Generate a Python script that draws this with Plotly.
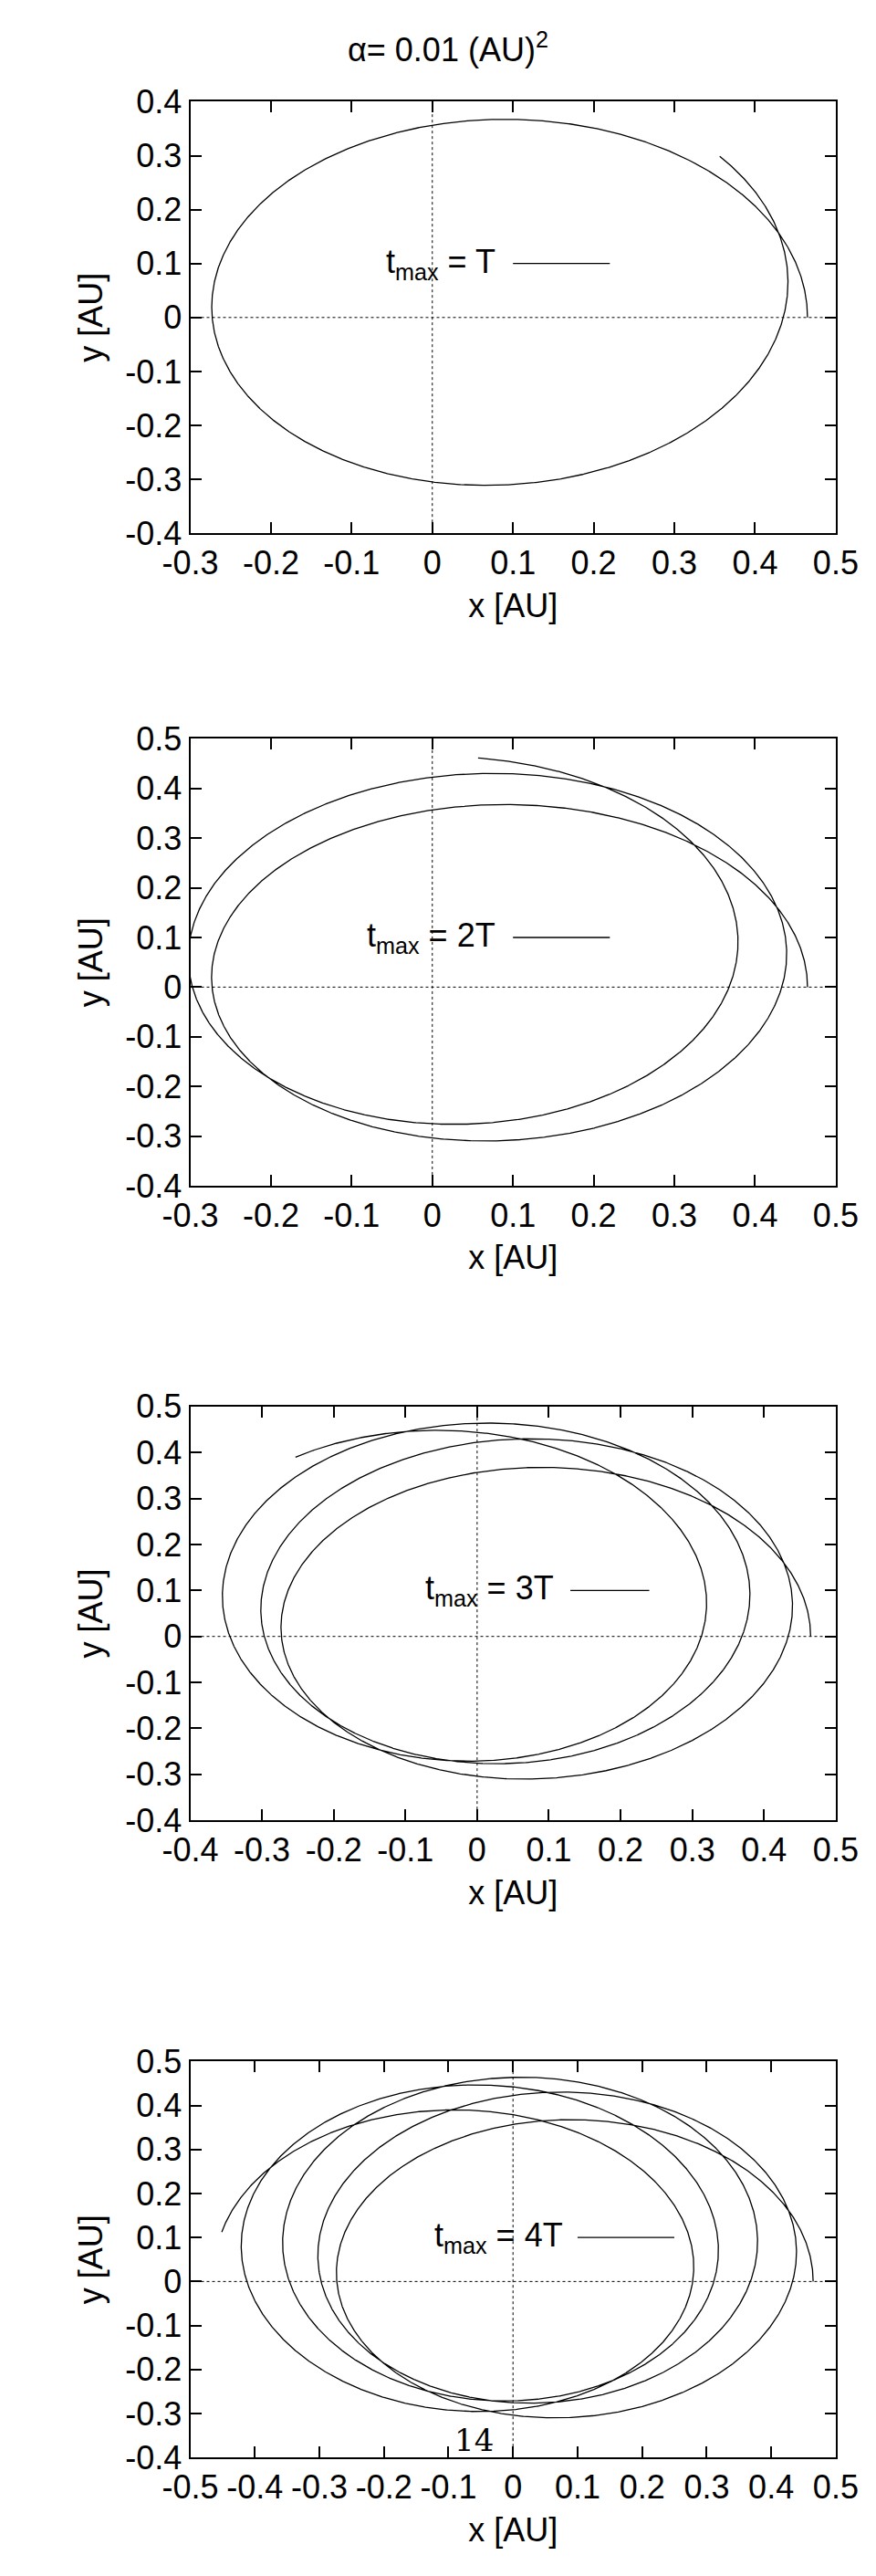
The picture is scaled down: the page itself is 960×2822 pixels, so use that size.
import numpy as np
import plotly.graph_objects as go

# values
panel_labels = ["T", "2T", "3T", "4T"]
n_periods = [1, 2, 3, 4]
end_angles_deg = [40, 83, 123, 166]      # polar angle of the end point after k periods
r_peri = 0.27                             # perihelion distance (AU)
r_aph = 0.465                             # aphelion distance (AU)
x_ranges = [[-0.3, 0.5], [-0.3, 0.5], [-0.4, 0.5], [-0.5, 0.5]]
y_ranges = [[-0.4, 0.4], [-0.4, 0.5], [-0.4, 0.5], [-0.4, 0.5]]
legend_x = [[0.10, 0.22], [0.10, 0.22], [0.13, 0.24], [0.10, 0.25]]
legend_y = 0.1
title_text = "α= 0.01 (AU)<sup>2</sup>"

domains_y = [[0.800, 0.970], [0.543, 0.719], [0.293, 0.456], [0.042, 0.198]]
dom_x = [0.1875, 0.970]
FONT = "Liberation Sans Narrow, Liberation Sans, Arial, sans-serif"
FS = 36

def tick_list(rng):
    vals = [round(v / 10, 1) for v in range(int(round(rng[0] * 10)), int(round(rng[1] * 10)) + 1)]
    texts = [("0" if v == 0 else ("%g" % v).replace("−", "-")) for v in vals]
    return vals, texts

def trajectory(k, end_deg):
    shift = np.radians(end_deg)
    phi = np.linspace(0, k * 2 * np.pi + shift, 1500 * k)
    rate = (k * 2 * np.pi + shift) / (k * 2 * np.pi)
    psi = np.pi + phi / rate
    e = (r_aph - r_peri) / (r_aph + r_peri)
    p = r_peri * (1 + e)
    r = p / (1 + e * np.cos(psi))
    return r * np.cos(phi), r * np.sin(phi)

fig = go.Figure()
annotations = []
shapes = []
for i in range(4):
    ax = "" if i == 0 else str(i + 1)
    x, y = trajectory(n_periods[i], end_angles_deg[i])
    fig.add_trace(go.Scatter(x=x, y=y, mode="lines", line=dict(color="black", width=1.3),
                             xaxis="x" + ax, yaxis="y" + ax, showlegend=False, hoverinfo="skip"))
    axis_common = dict(showgrid=False, zeroline=False,
                       showline=True, linecolor="black", linewidth=2, mirror="ticks",
                       ticks="inside", ticklen=12, tickwidth=2, tickcolor="black",
                       tickfont=dict(family=FONT, size=FS, color="black"))
    xv, xt = tick_list(x_ranges[i])
    yv, yt = tick_list(y_ranges[i])
    xa = dict(axis_common, range=x_ranges[i], tickmode="array", tickvals=xv, ticktext=xt,
              domain=dom_x, anchor="y" + ax,
              title=dict(text="x [AU]", font=dict(family=FONT, size=FS, color="black"), standoff=14))
    ya = dict(axis_common, range=y_ranges[i], tickmode="array", tickvals=yv, ticktext=yt,
              domain=domains_y[i], anchor="x" + ax,
              title=dict(text="y [AU]", font=dict(family=FONT, size=FS, color="black"), standoff=14))
    fig.update_layout(**{"xaxis" + ax: xa, "yaxis" + ax: ya})
    shapes.append(dict(type="line", xref="x" + ax, yref="y" + ax + " domain", x0=0, x1=0, y0=0, y1=1,
                       line=dict(color="black", width=1, dash="dot"), layer="below"))
    shapes.append(dict(type="line", xref="x" + ax + " domain", yref="y" + ax, x0=0, x1=1, y0=0, y1=0,
                       line=dict(color="black", width=1, dash="dot"), layer="below"))
    shapes.append(dict(type="line", xref="x" + ax, yref="y" + ax, x0=legend_x[i][0], x1=legend_x[i][1],
                       y0=legend_y, y1=legend_y, line=dict(color="black", width=1.3)))
    annotations.append(dict(xref="x" + ax, yref="y" + ax, x=legend_x[i][0] - 0.02, y=legend_y,
                            xanchor="right", yanchor="middle", showarrow=False,
                            text="t<sub>max</sub> = " + panel_labels[i],
                            font=dict(family=FONT, size=FS, color="black")))

annotations.append(dict(xref="paper", yref="paper", x=0.5, y=1 - 24 / 2822, xanchor="center",
                        yanchor="middle", showarrow=False, text=title_text,
                        font=dict(family=FONT, size=FS, color="black")))
annotations.append(dict(xref="x4", yref="y4", x=-0.06, y=-0.36, showarrow=False, text="14",
                        font=dict(family="DejaVu Serif, serif", size=34, color="black")))

fig.update_layout(width=960, height=2822, margin=dict(l=0, r=0, t=0, b=0),
                  paper_bgcolor="white", plot_bgcolor="white",
                  shapes=shapes, annotations=annotations)
fig.write_html("out.html")
